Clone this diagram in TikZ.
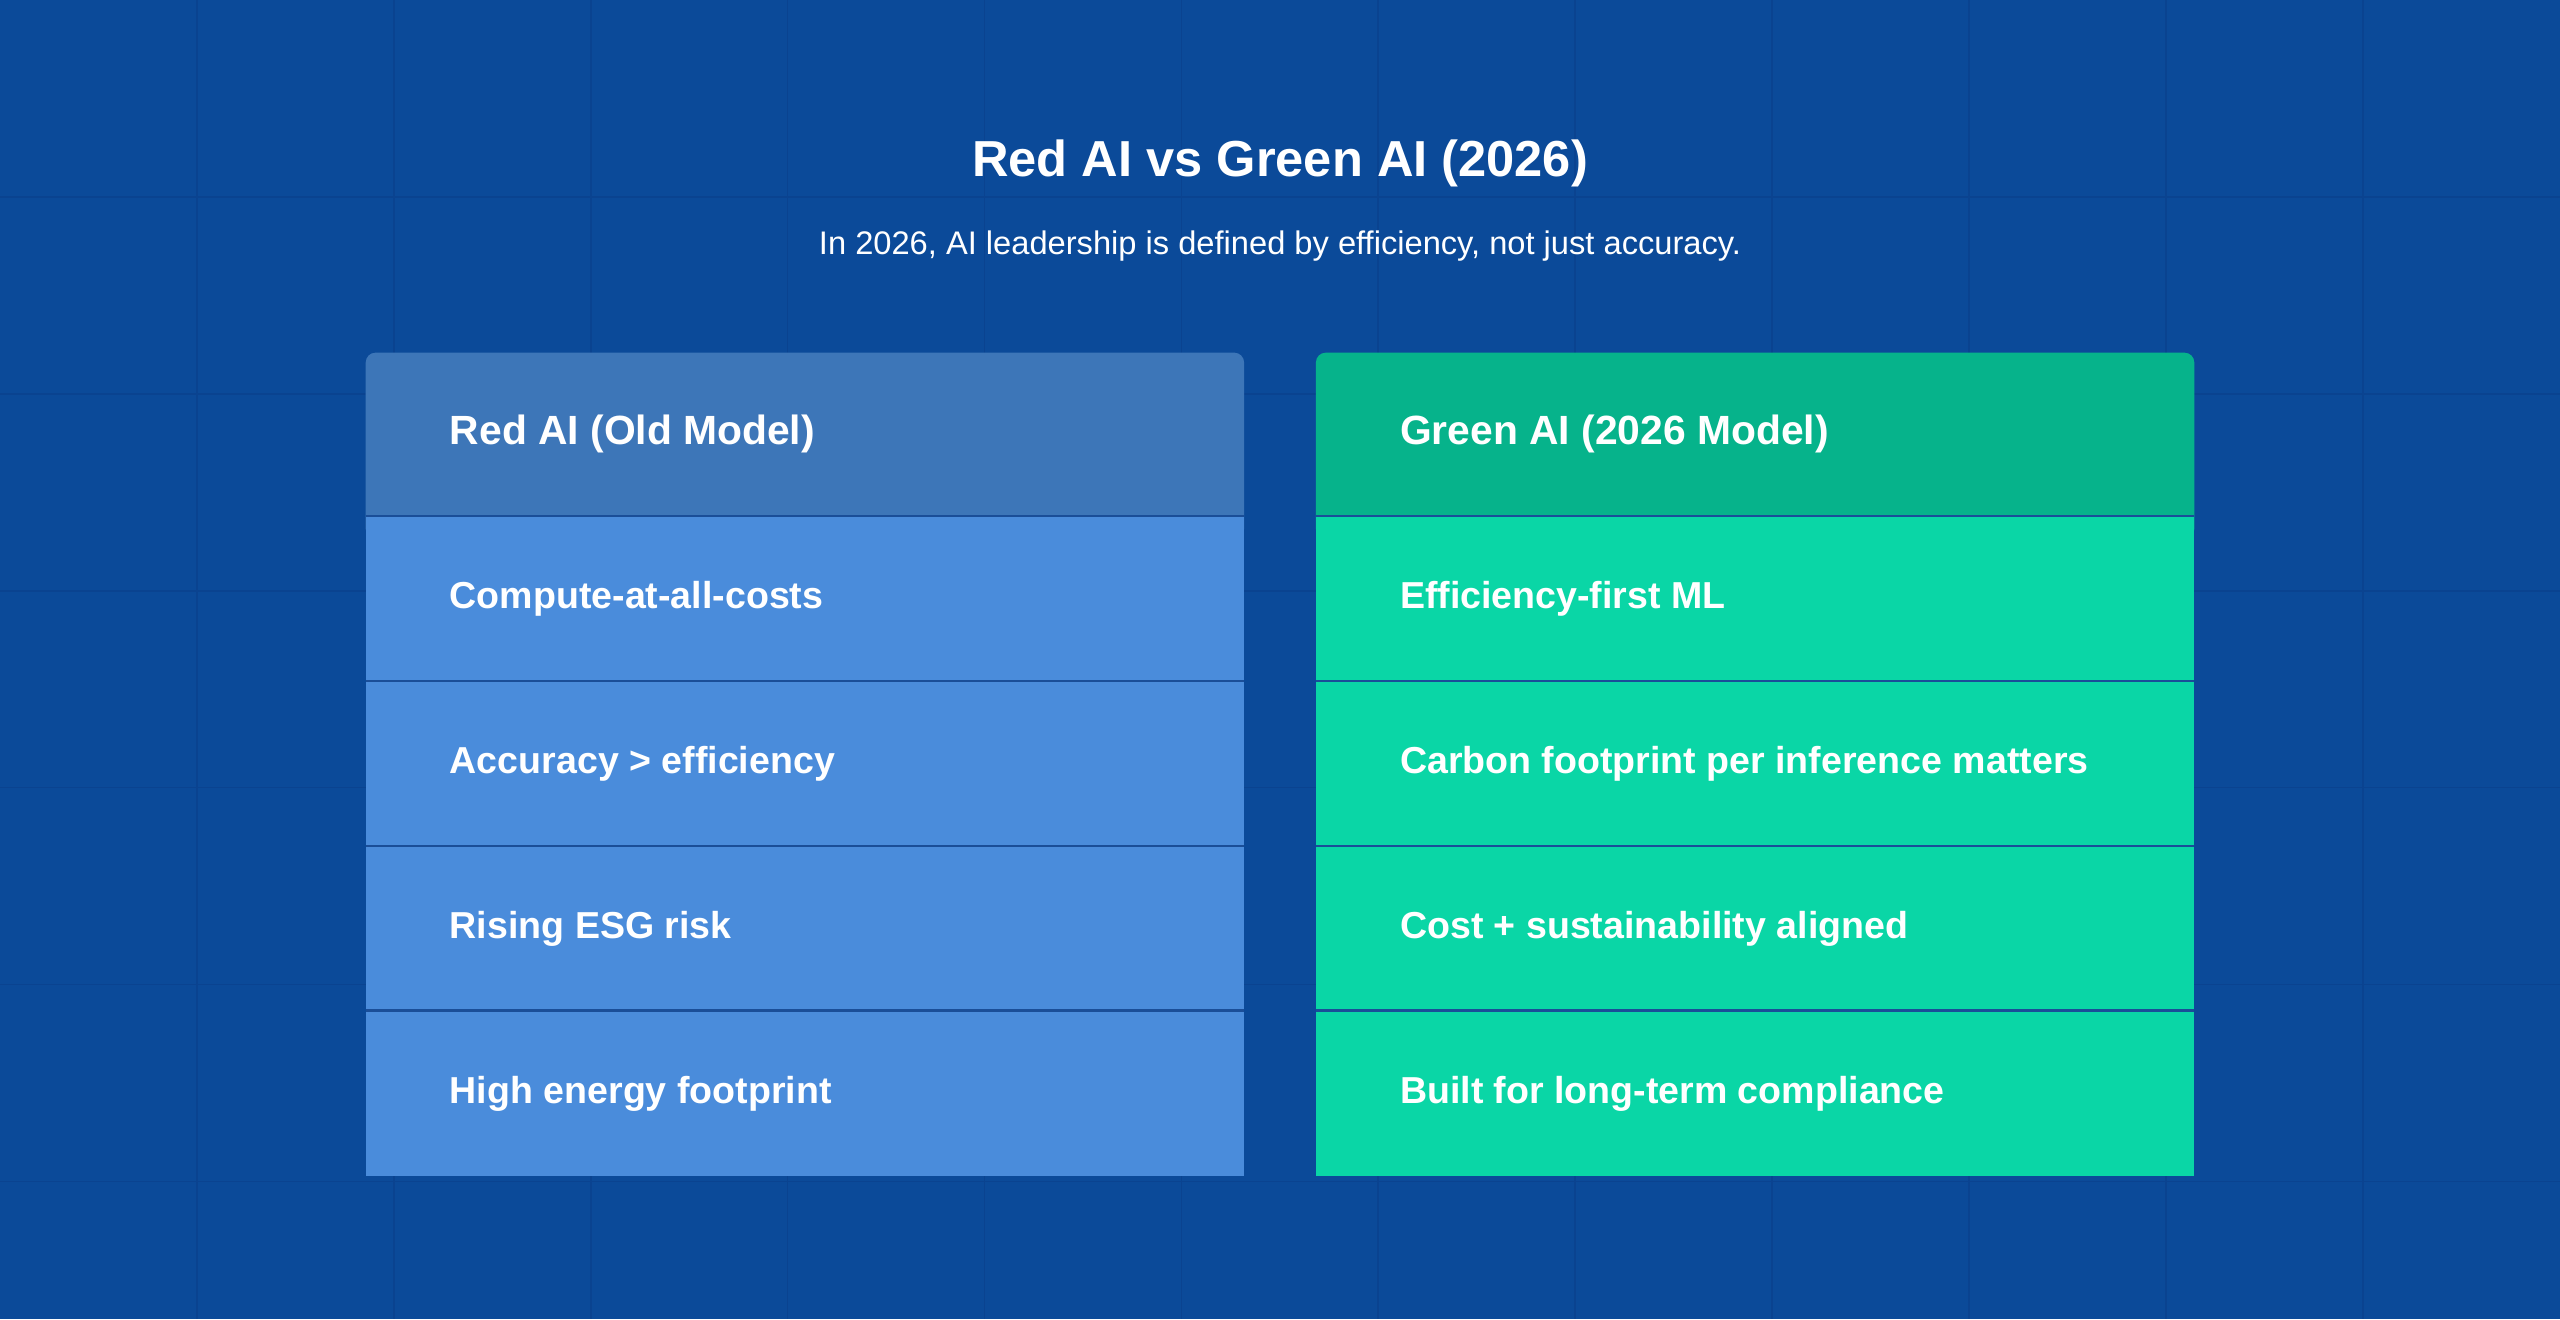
\documentclass[tikz,border=0pt]{standalone}
\usepackage{fontspec}
\setmainfont{Liberation Sans}
\definecolor{bg}{HTML}{0B4A99}
\definecolor{grid}{HTML}{0A4390}
\definecolor{lhead}{HTML}{3D76B8}
\definecolor{lrow}{HTML}{4A8CDB}
\definecolor{rhead}{HTML}{06B38B}
\definecolor{rrow}{HTML}{0AD6A6}
\definecolor{sep}{HTML}{1A4E98}
\begin{document}
\begin{tikzpicture}[x=1pt,y=-1pt,
  cell/.style={minimum width=538pt,minimum height=101pt,inner sep=0pt,draw=none},
  txt/.style={text=white,font=\bfseries\fontsize{23}{27}\selectfont,anchor=west},
  htxt/.style={text=white,font=\bfseries\fontsize{25}{29}\selectfont,anchor=west}]
\useasboundingbox (0,0) rectangle (1568,808);
\fill[bg] (0,0) rectangle (1568,808);
\foreach \i in {1,...,12} \draw[grid,line width=1pt] (\i*120.6,0) -- (\i*120.6,808);
\foreach \j in {1,...,6} \draw[grid,line width=1pt] (0,\j*120.6) -- (1568,\j*120.6);
\node[text=white,font=\bfseries\fontsize{31}{36}\selectfont] (title) at (784,100) {Red AI vs Green AI (2026)};
\node[text=white,font=\fontsize{20}{24}\selectfont] (sub) at (784,151) {In 2026, AI leadership is defined by efficiency, not just accuracy.};
% left
\fill[lhead,rounded corners=6pt] (224,216) rectangle (762,330);
\fill[lhead] (224,300) rectangle (762,316);
\fill[lrow] (224,316) rectangle (762,720);
\fill[rhead,rounded corners=6pt] (806,216) rectangle (1344,330);
\fill[rhead] (806,300) rectangle (1344,316);
\fill[rrow] (806,316) rectangle (1344,720);
\foreach \y in {316,417,518,619} {
  \draw[sep,line width=1.5pt] (224,\y) -- (762,\y);
  \draw[sep,line width=1.5pt] (806,\y) -- (1344,\y);
}
\node[htxt] (lh) at (272,266) {Red AI (Old Model)};
\node[txt] (l1) at (272,367) {Compute-at-all-costs};
\node[txt] (l2) at (272,468) {Accuracy > efficiency};
\node[txt] (l3) at (272,569) {Rising ESG risk};
\node[txt] (l4) at (272,670) {High energy footprint};
\node[htxt] (rh) at (854,266) {Green AI (2026 Model)};
\node[txt] (r1) at (854,367) {Efficiency-first ML};
\node[txt] (r2) at (854,468) {Carbon footprint per inference matters};
\node[txt] (r3) at (854,569) {Cost + sustainability aligned};
\node[txt] (r4) at (854,670) {Built for long-term compliance};
\end{tikzpicture}
\end{document}
